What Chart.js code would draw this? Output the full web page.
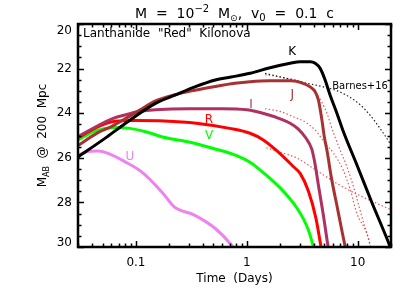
<!DOCTYPE html>
<html>
<head>
<meta charset="utf-8">
<script src="https://cdn.jsdelivr.net/npm/chart.js@4.4.0/dist/chart.umd.min.js"></script>
<style>
  html, body { margin: 0; padding: 0; background: #fff; }
  canvas { display: block; }
</style>
</head>
<body>
<canvas id="kilonovaChart" width="415" height="297"></canvas>
<script>
// light curves: time in days, AB magnitude at 200 Mpc
const kTime = [0.03, 0.0525, 0.08, 0.15, 0.225, 0.34, 0.52, 0.72, 1.07, 1.62, 2.46, 3.03, 3.73, 4.14, 4.59, 5.09, 5.65, 6.5, 7.4, 10.0, 13.3, 19.4, 21.0];
const kMag  = [25.96, 25.13, 24.46, 23.56, 23.19, 22.82, 22.51, 22.38, 22.21, 21.96, 21.76, 21.69, 21.69, 21.76, 21.99, 22.51, 23.2, 24.0, 24.8, 26.4, 27.95, 29.92, 30.4];

const jTime = [0.03, 0.045, 0.06, 0.08, 0.108, 0.15, 0.225, 0.34, 0.52, 0.78, 1.07, 1.6, 2.46, 3.03, 3.73, 4.14, 4.43, 4.76, 5.0, 5.3, 5.8, 6.6, 7.7, 8.0];
const jMag  = [25.45, 24.88, 24.6, 24.25, 23.86, 23.45, 23.17, 22.97, 22.8, 22.66, 22.59, 22.55, 22.55, 22.62, 22.82, 23.04, 23.41, 24.3, 25.05, 25.7, 26.9, 28.3, 29.95, 30.3];

const iTime = [0.03, 0.05, 0.065, 0.08, 0.1, 0.15, 0.3, 0.6, 1.0, 1.5, 2.0, 2.46, 2.9, 3.4, 3.85, 4.1, 4.45, 4.9, 5.4, 5.6];
const iMag  = [25.05, 24.45, 24.2, 24.08, 23.95, 23.85, 23.8, 23.8, 23.85, 24.05, 24.25, 24.45, 24.7, 25.1, 25.6, 26.2, 27.3, 28.55, 29.95, 30.4];

const rTime = [0.03, 0.04, 0.05, 0.065, 0.1, 0.18, 0.35, 0.7, 1.07, 1.41, 1.84, 2.64, 3.03, 3.6, 4.2, 4.68, 4.9];
const rMag  = [25.1, 24.75, 24.52, 24.36, 24.33, 24.35, 24.45, 24.68, 24.9, 25.2, 25.66, 26.4, 26.7, 27.5, 28.7, 30.0, 30.5];

const vTime = [0.03, 0.0425, 0.0645, 0.088, 0.125, 0.177, 0.307, 0.5, 0.81, 1.07, 1.32, 1.62, 2.0, 2.46, 2.83, 3.25, 3.6, 4.0, 4.2];
const vMag  = [25.2, 24.8, 24.64, 24.68, 24.84, 25.08, 25.3, 25.58, 25.9, 26.2, 26.55, 26.92, 27.35, 27.85, 28.25, 28.75, 29.25, 30.0, 30.4];

const uTime = [0.03, 0.0346, 0.0456, 0.056, 0.08, 0.1125, 0.171, 0.222, 0.34, 0.52, 0.73, 0.8];
const uMag  = [25.9, 25.75, 25.7, 25.8, 26.18, 26.63, 27.53, 28.2, 28.58, 29.17, 29.92, 30.2];

// Barnes+16 comparison curves (dotted)
const bkTime = [1.46, 2.0, 3.03, 4.9, 6.96, 10.2, 13.0, 16.0, 19.6, 20.5];
const bkMag  = [22.21, 22.37, 22.59, 22.82, 23.05, 23.56, 24.1, 24.7, 25.36, 25.55];
const bjTime = [1.46, 2.0, 3.22, 3.8, 4.28, 4.8, 5.28, 6.07, 6.96, 8.0, 9.5, 11.0, 12.5, 13.3];
const bjMag  = [22.27, 22.38, 22.62, 22.85, 23.14, 23.55, 24.0, 24.9, 25.66, 26.4, 27.55, 28.7, 29.6, 30.1];
const biTime = [1.46, 2.0, 2.6, 3.5, 4.3, 5.0, 6.07, 7.4, 8.6, 9.85, 12.1, 13.2];
const biMag  = [23.8, 23.92, 24.15, 24.45, 24.85, 25.3, 25.8, 26.55, 27.45, 28.5, 29.4, 30.1];
const brTime = [1.5, 2.0, 2.8, 4.2, 6.5, 10.5, 15.0, 20.5];
const brMag  = [25.55, 25.75, 26.0, 26.55, 27.15, 27.7, 28.05, 28.35];

// band labels (placed in data coordinates)
const bandNames = ['K', 'J', 'I', 'R', 'V', 'U'];
const bandColors = ['#000000', '#A83232', '#B03060', '#FF0000', '#00FF00', '#EE82EE'];
const labelTime = [2.57, 2.57, 1.09, 0.456, 0.456, 0.0883];
const labelMag  = [21.26, 23.19, 23.64, 24.31, 25.03, 25.97];

const yTickLabels = [20, 22, 24, 26, 28, 30];
const xTickLabels = [0.1, 1, 10];

const FONT = '"DejaVu Sans", Verdana, sans-serif';

function toPoints(ts, ms) {
  return ts.map((t, i) => ({ x: t, y: ms[i] }));
}

function solid(ts, ms, color) {
  return {
    data: toPoints(ts, ms),
    borderColor: color,
    borderWidth: 3,
    pointRadius: 0,
    fill: false,
    cubicInterpolationMode: 'monotone'
  };
}

function dotted(ts, ms, color) {
  return {
    data: toPoints(ts, ms),
    borderColor: color,
    borderWidth: 1.2,
    borderDash: [1.5, 2.2],
    pointRadius: 0,
    fill: false,
    cubicInterpolationMode: 'monotone'
  };
}

// first dataset is drawn on top
const datasets = [
  solid(kTime, kMag, bandColors[0]),
  solid(jTime, jMag, bandColors[1]),
  solid(iTime, iMag, bandColors[2]),
  solid(rTime, rMag, bandColors[3]),
  solid(vTime, vMag, bandColors[4]),
  solid(uTime, uMag, bandColors[5]),
  dotted(bkTime, bkMag, 'rgba(0,0,0,0.85)'),
  dotted(bjTime, bjMag, 'rgba(225,50,50,0.8)'),
  dotted(biTime, biMag, 'rgba(225,50,50,0.8)'),
  dotted(brTime, brMag, 'rgba(225,50,50,0.8)')
];

// inward ticks, frame and text annotations
const decorations = {
  id: 'decorations',
  afterDatasetsDraw(chart) {
    const { ctx, chartArea: a, scales } = chart;
    const x = scales.x, y = scales.y;
    ctx.save();
    ctx.strokeStyle = '#000';
    ctx.lineWidth = 1.5;
    ctx.beginPath();
    for (let d = -2; d <= 1; d++) {
      for (let m = 1; m <= 9; m++) {
        const v = m * Math.pow(10, d);
        if (v < 0.03 || v > 20) continue;
        const px = Math.round(x.getPixelForValue(v)) + 0.5;
        const len = m === 1 ? 6 : 3.5;
        ctx.moveTo(px, a.bottom); ctx.lineTo(px, a.bottom - len);
        ctx.moveTo(px, a.top); ctx.lineTo(px, a.top + len);
      }
    }
    for (let v = 20; v <= 30; v += 0.5) {
      const py = Math.round(y.getPixelForValue(v)) + 0.5;
      const len = v % 2 === 0 ? 6 : 3.5;
      ctx.moveTo(a.left, py); ctx.lineTo(a.left + len, py);
      ctx.moveTo(a.right, py); ctx.lineTo(a.right - len, py);
    }
    ctx.stroke();
    ctx.lineWidth = 2.5;
    ctx.strokeRect(a.left, a.top, a.right - a.left, a.bottom - a.top);

    // y tick labels (the end labels sit a little inside, as in the original)
    ctx.fillStyle = '#000';
    ctx.font = '12px ' + FONT;
    ctx.textAlign = 'right';
    ctx.textBaseline = 'middle';
    yTickLabels.forEach(v => {
      let py = y.getPixelForValue(v);
      if (v === 20) py += 7;
      if (v === 30) py -= 4;
      ctx.fillText(String(v), a.left - 6, py);
    });

    // panel caption
    ctx.textAlign = 'left';
    ctx.fillText('Lanthanide  "Red"  Kilonova', a.left + 5, a.top + 10);

    // band labels
    ctx.textAlign = 'center';
    bandNames.forEach((name, i) => {
      ctx.fillStyle = bandColors[i];
      ctx.fillText(name, x.getPixelForValue(labelTime[i]), y.getPixelForValue(labelMag[i]));
    });
    ctx.fillStyle = '#000';
    ctx.font = '10px ' + FONT;
    ctx.textAlign = 'left';
    ctx.fillText('Barnes+16', x.getPixelForValue(5.9), y.getPixelForValue(22.78));

    // title with super/subscripts
    const parts = [
      { t: 'M  =  10', s: 14, dy: 0 },
      { t: '\u22122', s: 10, dy: -6 },
      { t: '  M', s: 14, dy: 0 },
      { t: '\u2299', s: 9, dy: 3 },
      { t: ',  v', s: 14, dy: 0 },
      { t: '0', s: 10, dy: 3 },
      { t: '  =  0.1  c', s: 14, dy: 0 }
    ];
    drawParts(ctx, parts, (a.left + a.right) / 2, 18);

    // y axis title (rotated), with subscript AB
    ctx.save();
    ctx.translate(46, (a.top + a.bottom) / 2);
    ctx.rotate(-Math.PI / 2);
    drawParts(ctx, [
      { t: 'M', s: 12, dy: 0 },
      { t: 'AB', s: 8, dy: 3 },
      { t: '  @  200  Mpc', s: 12, dy: 0 }
    ], 0, 0);
    ctx.restore();
    ctx.restore();
  }
};

function drawParts(ctx, parts, cx, baseY) {
  ctx.textBaseline = 'alphabetic';
  ctx.textAlign = 'left';
  ctx.fillStyle = '#000';
  let total = 0;
  parts.forEach(p => { ctx.font = p.s + 'px ' + FONT; total += ctx.measureText(p.t).width; });
  let px = cx - total / 2;
  parts.forEach(p => {
    ctx.font = p.s + 'px ' + FONT;
    ctx.fillText(p.t, px, baseY + p.dy);
    px += ctx.measureText(p.t).width;
  });
}

const ctx = document.getElementById('kilonovaChart').getContext('2d');
const kilonovaChart = new Chart(ctx, {
  type: 'line',
  data: { datasets: datasets },
  options: {
    responsive: false,
    animation: false,
    events: [],
    layout: { padding: { top: 24, right: 24, left: 0, bottom: 0 } },
    plugins: {
      legend: { display: false },
      tooltip: { enabled: false },
      title: { display: false }
    },
    scales: {
      x: {
        type: 'logarithmic',
        min: 0.03,
        max: 20,
        grid: { display: false, drawTicks: false },
        border: { display: false },
        ticks: {
          autoSkip: false,
          maxRotation: 0,
          padding: 9,
          color: '#000',
          font: { family: FONT, size: 12 },
          callback: function(v) {
            const hit = xTickLabels.find(t => Math.abs(Math.log10(v) - Math.log10(t)) < 1e-6);
            return hit === undefined ? '' : String(hit);
          }
        },
        title: {
          display: true,
          text: 'Time  (Days)',
          color: '#000',
          font: { family: FONT, size: 12 },
          padding: { top: 0, bottom: 11 }
        },
        afterFit: function(s) { s.height = 50; s.paddingLeft = 0; s.paddingRight = 0; }
      },
      y: {
        reverse: true,
        min: 20,
        max: 30,
        grid: { display: false, drawTicks: false },
        border: { display: false },
        ticks: { display: false, stepSize: 2 },
        afterFit: function(s) { s.width = 78; s.paddingTop = 0; s.paddingBottom = 0; }
      }
    }
  },
  plugins: [decorations]
});
</script>
</body>
</html>
